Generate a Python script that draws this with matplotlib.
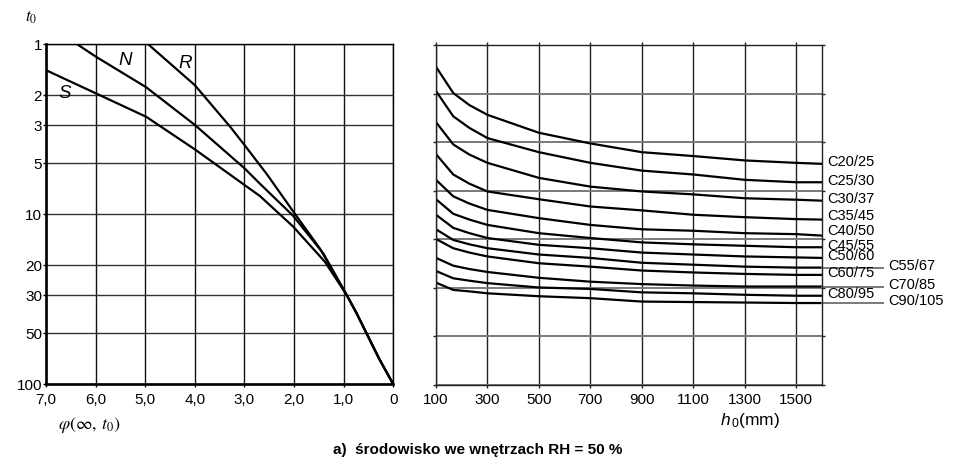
"""Creep coefficient nomogram: phi(inf, t0) vs t0 and h0, indoor RH = 50 %."""

import matplotlib
matplotlib.use('Agg')
import matplotlib.pyplot as plt
from matplotlib.ticker import NullLocator, FixedLocator, NullFormatter
import matplotlib.transforms as mtransforms

plt.rcParams['font.family'] = ['Liberation Sans', 'DejaVu Sans']
plt.rcParams['mathtext.fontset'] = 'custom'
plt.rcParams['mathtext.rm'] = 'Liberation Sans'
plt.rcParams['mathtext.it'] = 'Liberation Sans:italic'

# Left panel: t0 (log, downwards) against phi (reversed)
t0_ticks = [1, 2, 3, 5, 10, 20, 30, 50, 100]
phi_ticks = [7, 6, 5, 4, 3, 2, 1, 0]
phi_tick_labels = ['7,0', '6,0', '5,0', '4,0', '3,0', '2,0', '1,0', '0']

s_phi = [7.0, 6.0, 4.98, 4.0, 3.0, 2.69, 2.02, 1.38, 0.94, 0.74, 0.54, 0.29, 0.0]
s_t0 = [1.42, 1.94, 2.67, 4.15, 6.72, 7.8, 11.8, 19.0, 29.8, 38.2, 50.1, 70.3, 100]
n_phi = [6.37, 6.0, 4.98, 4.0, 3.0, 2.69, 2.02, 1.41, 0.94, 0.74, 0.54, 0.29, 0.0]
n_t0 = [1.0, 1.18, 1.79, 2.98, 5.36, 6.6, 10.2, 17.0, 29.8, 38.2, 50.1, 70.3, 100]
r_phi = [4.94, 4.0, 3.29, 3.0, 2.72, 2.55, 2.02, 1.48, 0.94, 0.74, 0.54, 0.29, 0.0]
r_t0 = [1.0, 1.74, 3.05, 3.91, 5.0, 5.8, 9.6, 15.9, 29.8, 38.2, 50.1, 70.3, 100]

# Right panel: phi against h0 per concrete class
h0 = [100, 167, 230, 300, 500, 700, 900, 1100, 1300, 1500, 1600]
h0_ticks = [100, 300, 500, 700, 900, 1100, 1300, 1500]
grades = ['C20/25', 'C25/30', 'C30/37', 'C35/45', 'C40/50', 'C45/55',
          'C50/60', 'C55/67', 'C60/75', 'C70/85', 'C80/95', 'C90/105']
grade_phi = [
    [6.55, 6.01, 5.76, 5.56, 5.19, 4.97, 4.79, 4.71, 4.62, 4.57, 4.55],
    [6.05, 5.53, 5.29, 5.08, 4.79, 4.57, 4.41, 4.33, 4.22, 4.17, 4.17],
    [5.41, 4.95, 4.74, 4.57, 4.26, 4.08, 3.98, 3.92, 3.84, 3.81, 3.79],
    [4.75, 4.33, 4.14, 3.98, 3.82, 3.67, 3.59, 3.50, 3.45, 3.41, 3.40],
    [4.22, 3.88, 3.73, 3.60, 3.43, 3.29, 3.20, 3.17, 3.12, 3.10, 3.07],
    [3.82, 3.52, 3.40, 3.29, 3.12, 3.02, 2.93, 2.89, 2.86, 2.83, 2.83],
    [3.50, 3.23, 3.12, 3.02, 2.88, 2.81, 2.72, 2.68, 2.64, 2.62, 2.61],
    [3.20, 2.98, 2.89, 2.81, 2.68, 2.61, 2.51, 2.47, 2.43, 2.41, 2.41],
    [3.00, 2.81, 2.72, 2.64, 2.50, 2.43, 2.35, 2.31, 2.28, 2.26, 2.26],
    [2.61, 2.45, 2.38, 2.32, 2.20, 2.12, 2.07, 2.04, 2.02, 2.02, 2.02],
    [2.34, 2.19, 2.14, 2.09, 2.00, 1.97, 1.90, 1.88, 1.85, 1.83, 1.83],
    [2.10, 1.95, 1.92, 1.88, 1.82, 1.78, 1.71, 1.70, 1.69, 1.68, 1.68],
]
leader_grades = ['C55/67', 'C70/85', 'C90/105']
# vertical nudge (points) of a few crowded labels
label_nudge = {'C35/45': 2.5, 'C40/50': 3.5}

W, H = 956, 467
fig = plt.figure(figsize=(W / 100, H / 100), dpi=100)

ax1 = fig.add_axes([46 / W, 1 - 384.3 / H, 347.3 / W, 340 / H])
ax2 = fig.add_axes([436 / W, 1 - 384.5 / H, 386 / W, 339.5 / H])

# ---- left panel
ax1.set_yscale('log')
ax1.set_xlim(7, 0)
ax1.set_ylim(100, 1)
ax1.yaxis.set_major_locator(FixedLocator(t0_ticks))
ax1.yaxis.set_minor_locator(NullLocator())
ax1.set_yticklabels([str(t) for t in t0_ticks])
ax1.set_xticks(phi_ticks)
ax1.set_xticklabels(phi_tick_labels)
ax1.tick_params(axis='both', direction='out', length=2.2, width=1,
                labelsize=11, color='k')
ax1.tick_params(axis='x', pad=4)
ax1.tick_params(axis='y', pad=0.5)
ax1.xaxis.grid(True, color='#111111', linewidth=1.0)
ax1.yaxis.grid(True, color='#333333', linewidth=1.0)
ax1.set_axisbelow(True)
for side in ('left', 'bottom'):
    ax1.spines[side].set_linewidth(1.9)
for side in ('top', 'right'):
    ax1.spines[side].set_linewidth(1.0)

for phi, t0 in ((s_phi, s_t0), (n_phi, n_t0), (r_phi, r_t0)):
    ax1.plot(phi, t0, color='black', linewidth=1.6, solid_joinstyle='round')

for lab, x, y in (('S', 6.62, 1.96), ('N', 5.41, 1.24), ('R', 4.20, 1.29)):
    ax1.text(x, y, lab, fontsize=13.5, style='italic', ha='center',
             va='center')

# ---- right panel
ax2.set_xlim(100, 1600)
ax2.set_ylim(0, 7)
ax2.set_xticks(h0_ticks)
ax2.set_xticklabels([str(v) for v in h0_ticks])
ax2.set_yticks(range(8))
ax2.yaxis.set_major_formatter(NullFormatter())
ax2.tick_params(axis='both', direction='out', length=2.2, width=1,
                labelsize=11, top=True, right=True, color='#222222')
ax2.tick_params(axis='x', pad=4)
ax2.xaxis.grid(True, color='#222222', linewidth=1.0)
ax2.yaxis.grid(True, color='#7a7a7a', linewidth=1.4)
ax2.set_axisbelow(True)
for side in ax2.spines.values():
    side.set_linewidth(1.0)
    side.set_color('#222222')

lead_tr = mtransforms.blended_transform_factory(ax2.transAxes, ax2.transData)
for name, vals in zip(grades, grade_phi):
    ax2.plot(h0, vals, color='black', linewidth=1.6, solid_joinstyle='round')
    if name in leader_grades:
        ax2.plot([1.0, 1.0 + 61 / 386], [vals[-1], vals[-1]],
                 transform=lead_tr, color='#7a7a7a', linewidth=1.4,
                 clip_on=False)
        dx = 48
    else:
        dx = 3.5
    ax2.annotate(name, xy=(1600, vals[-1]),
                 xytext=(dx, label_nudge.get(name, 1.2)),
                 textcoords='offset points', fontsize=10.5, ha='left',
                 va='center', annotation_clip=False)

# ---- axis titles and caption
fig.text(25 / W, 1 - 18 / H, r'$t_0$', fontsize=12, math_fontfamily='stix',
         ha='left', va='center')
fig.text(58 / W, 1 - 425 / H, r'$\varphi(\infty,\, t_{\mathrm{0}})$',
         fontsize=13, math_fontfamily='stix', ha='left', va='center')
fig.text(780 / W, 1 - 420 / H, r'$h_{\,\mathrm{0}}$(mm)', fontsize=12.5,
         ha='right', va='center')
fig.text(477.5 / W, 1 - 450 / H, 'a)  środowisko we wnętrzach RH = 50 %',
         fontsize=11, fontweight='bold', ha='center', va='center')

fig.savefig('out.png', dpi=100)
plt.close(fig)
